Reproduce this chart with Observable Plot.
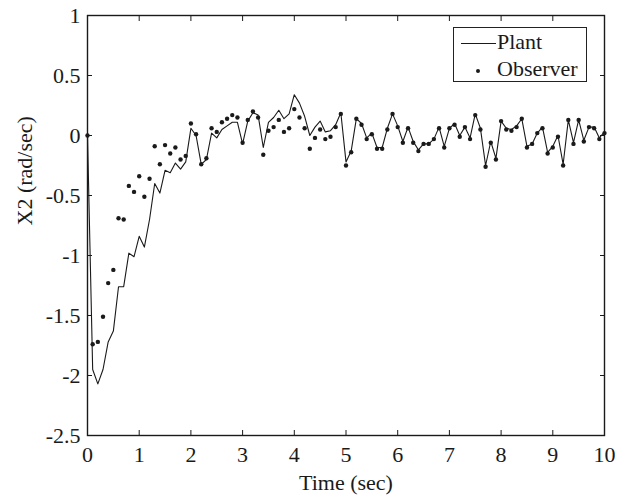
<!DOCTYPE html>
<html>
<head>
<meta charset="utf-8">
<script src="https://cdn.jsdelivr.net/npm/d3@7"></script>
<script src="https://cdn.jsdelivr.net/npm/@observablehq/plot@0.6"></script>
<style>
  html, body { margin: 0; padding: 0; background: #fff; }
  #wrap { position: relative; width: 634px; height: 500px; }
  #legend { position: absolute; left: 453px; top: 27px; width: 134px; height: 55px;
    border: 1px solid #222; background: #fff; box-sizing: border-box;
    font-family: "Liberation Serif", "DejaVu Serif", serif; font-size: 22px; color: #1a1a1a; }
  #legend .lbl { position: absolute; left: 43px; line-height: 1; white-space: nowrap; }
</style>
</head>
<body>
<div id="wrap"></div>
<script>
const time = [0,0.1,0.2,0.3,0.4,0.5,0.6,0.7,0.8,0.9,1,1.1,1.2,1.3,1.4,1.5,1.6,1.7,1.8,1.9,2,2.1,2.2,2.3,2.4,2.5,2.6,2.7,2.8,2.9,3,3.1,3.2,3.3,3.4,3.5,3.6,3.7,3.8,3.9,4,4.1,4.2,4.3,4.4,4.5,4.6,4.7,4.8,4.9,5,5.1,5.2,5.3,5.4,5.5,5.6,5.7,5.8,5.9,6,6.1,6.2,6.3,6.4,6.5,6.6,6.7,6.8,6.9,7,7.1,7.2,7.3,7.4,7.5,7.6,7.7,7.8,7.9,8,8.1,8.2,8.3,8.4,8.5,8.6,8.7,8.8,8.9,9,9.1,9.2,9.3,9.4,9.5,9.6,9.7,9.8,9.9,10];

const plant = [0,-1.95,-2.07,-1.95,-1.72,-1.63,-1.26,-1.26,-0.98,-1.01,
  -0.84,-0.93,-0.70,-0.40,-0.48,-0.29,-0.31,-0.23,-0.28,-0.22,
  0.06,0.00,-0.24,-0.20,0.02,-0.02,0.05,0.08,0.11,0.11,
  -0.07,0.12,0.19,0.17,-0.10,0.11,0.15,0.21,0.14,0.18,
  0.34,0.27,0.16,0.00,0.07,0.12,0.03,0.04,0.09,0.19,
  -0.22,-0.13,0.14,0.10,-0.02,0.02,-0.10,-0.10,0.06,0.18,
  0.08,-0.05,0.07,-0.05,-0.12,-0.07,-0.07,-0.03,0.07,-0.09,
  0.06,0.10,0.00,0.07,-0.02,0.18,0.06,-0.25,-0.05,-0.19,
  0.12,0.06,0.05,0.08,0.14,-0.09,-0.07,0.02,0.07,-0.14,
  -0.09,0.00,-0.24,0.13,-0.06,0.13,-0.04,0.07,0.07,-0.02,
  0.03];

const observer = [0,-1.74,-1.72,-1.51,-1.23,-1.12,-0.69,-0.70,-0.42,-0.47,
  -0.34,-0.51,-0.36,-0.09,-0.24,-0.08,-0.15,-0.10,-0.20,-0.17,
  0.10,0.01,-0.24,-0.19,0.06,0.03,0.11,0.14,0.17,0.15,
  -0.06,0.13,0.20,0.15,-0.16,0.04,0.07,0.13,0.03,0.06,
  0.22,0.15,0.06,-0.11,-0.02,0.05,-0.03,-0.01,0.07,0.18,
  -0.25,-0.14,0.14,0.09,-0.03,0.01,-0.11,-0.11,0.05,0.18,
  0.07,-0.06,0.06,-0.06,-0.13,-0.07,-0.07,-0.03,0.06,-0.10,
  0.06,0.09,-0.01,0.07,-0.03,0.17,0.05,-0.26,-0.06,-0.20,
  0.12,0.05,0.04,0.07,0.14,-0.10,-0.07,0.02,0.06,-0.15,
  -0.10,-0.01,-0.25,0.13,-0.07,0.13,-0.05,0.07,0.06,-0.03,
  0.02];

const xTicks = [0,1,2,3,4,5,6,7,8,9,10];
const yTicks = [1,0.5,0,-0.5,-1,-1.5,-2,-2.5];
const seriesNames = ["Plant", "Observer"];
const xLabel = "Time (sec)";
const yLabel = "X2 (rad/sec)";

const rows = time.map((t, i) => ({t, plant: plant[i], observer: observer[i]}));
const ink = "#1a1a1a";

const chart = Plot.plot({
  width: 634,
  height: 500,
  marginLeft: 87,
  marginRight: 30,
  marginTop: 15,
  marginBottom: 65,
  style: { fontFamily: "'Liberation Serif', 'DejaVu Serif', serif", fontSize: "22px", color: ink, background: "#fff" },
  x: { domain: [0, 10] },
  y: { domain: [-2.5, 1] },
  marks: [
    Plot.axisX({ ticks: xTicks, tickSize: -5, tickPadding: 16, tickFormat: d => String(d), label: null, stroke: ink }),
    Plot.axisX({ anchor: "top", ticks: xTicks, tickSize: -5, tickFormat: () => "", label: null, stroke: ink }),
    Plot.axisY({ ticks: yTicks, tickSize: -5, tickPadding: 12, tickFormat: d => String(d), label: null, stroke: ink }),
    Plot.axisY({ anchor: "right", ticks: yTicks, tickSize: -5, tickFormat: () => "", label: null, stroke: ink }),
    Plot.frame({ stroke: ink, strokeWidth: 1.4 }),
    Plot.line(rows, { x: "t", y: "plant", stroke: ink, strokeWidth: 1.1 }),
    Plot.dot(rows, { x: "t", y: "observer", r: 2.2, fill: ink, stroke: "none" }),
    Plot.text([xLabel], { frameAnchor: "bottom", dy: 54, fontSize: 22, fill: ink, text: d => d }),
    Plot.text([yLabel], { frameAnchor: "left", dx: -63, rotate: -90, fontSize: 22, fill: ink, text: d => d })
  ]
});

const wrap = document.getElementById("wrap");
wrap.appendChild(chart);

const legend = document.createElement("div");
legend.id = "legend";
legend.innerHTML = `
  <span style="position:absolute;left:7px;top:15px;width:35px;border-top:1.2px solid ${ink}"></span>
  <span class="lbl" style="top:3px">${seriesNames[0]}</span>
  <span style="position:absolute;left:22px;top:41px;width:4.4px;height:4.4px;border-radius:50%;background:${ink}"></span>
  <span class="lbl" style="top:30px">${seriesNames[1]}</span>`;
wrap.appendChild(legend);
</script>
</body>
</html>
